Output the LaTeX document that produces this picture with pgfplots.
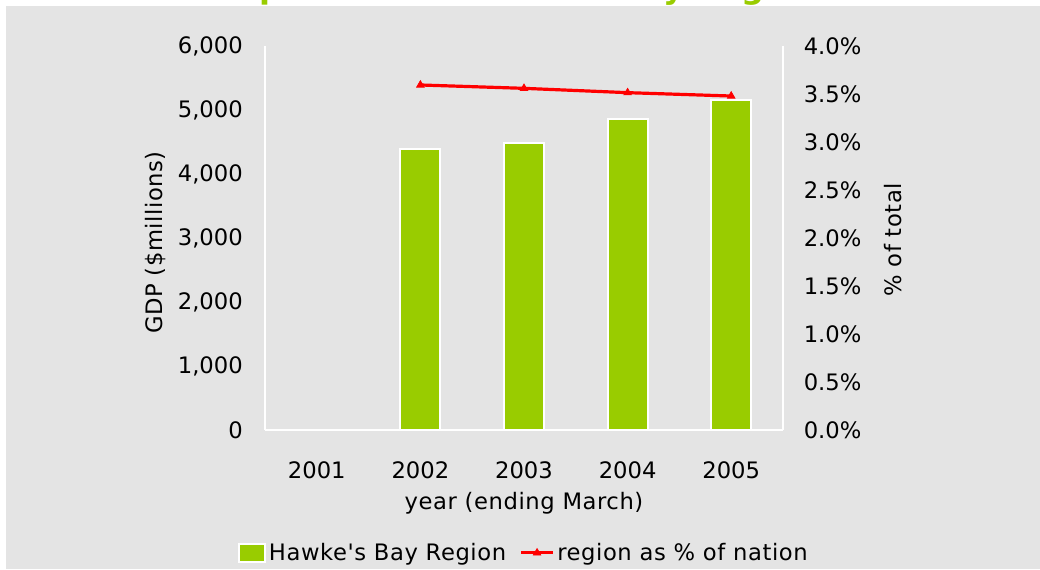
\documentclass[border=0pt]{standalone}
\usepackage{fontspec}
\setmainfont{DejaVu Sans}
\newfontfamily\dv{DejaVu Sans}
\newfontfamily\dvs{DejaVu Sans}[LetterSpace=2.5]
\usepackage{pgfplots}
\pgfplotsset{compat=1.18}
\definecolor{barg}{HTML}{99CC00}
\definecolor{bg}{HTML}{E4E4E4}
\newcommand{\fs}{\fontsize{17}{20}\selectfont}
\newcommand{\fl}{\fontsize{17}{20}\selectfont\dvs}
\begin{document}
\begin{tikzpicture}[x=1pt,y=1pt]
\useasboundingbox (0,0) rectangle (780,426.75);
\begin{scope}
\clip (0,0) rectangle (780,426.75);
\node[anchor=base east, inner sep=0pt, font=\fontsize{24}{28}\selectfont\bfseries, text=barg] at (186,428) {Gross domestic};
\node[anchor=base west, inner sep=0pt, font=\fontsize{24}{28}\selectfont\bfseries\dv, text=barg] at (194.25,428) {product of Hawke's Bay Region};
\end{scope}
\fill[bg] (4.5,0) rectangle (780,422.25);
\begin{axis}[
  at={(198.75pt,104.25pt)}, anchor=south west, scale only axis,
  width=388.5pt, height=288pt,
  xmin=-0.5, xmax=4.5, ymin=0, ymax=6000,
  axis x line*=bottom, axis y line*=left,
  axis line style={-, white, line width=2pt},
  tick style={draw=none},
  xtick={0,1,2,3,4}, xticklabels={2001,2002,2003,2004,2005},
  ytick={0,1000,...,6000}, scaled y ticks=false,
  /pgf/number format/.cd, 1000 sep={,}, assume math mode=true, /pgfplots/.cd,
  xticklabel style={font=\fs, inner sep=0pt, anchor=north, yshift=-19.5pt},
  yticklabel style={font=\fs, inner sep=0pt, anchor=east, xshift=-16.5pt},
  ylabel={GDP (\$millions)},
  ylabel style={font=\fl, at={(axis description cs:-0.2104,0.488)}, anchor=center},
  xlabel={year (ending March)},
  xlabel style={font=\fl, at={(axis description cs:0.5,-0.19)}, anchor=center},
  ybar, bar width=30pt,
]
\addplot[fill=barg, draw=white, line width=1.5pt] coordinates {(1,4383) (2,4484) (3,4852) (4,5156)};
\end{axis}
\begin{axis}[
  at={(198.75pt,104.25pt)}, anchor=south west, scale only axis,
  width=388.5pt, height=288pt,
  xmin=-0.5, xmax=4.5, ymin=0, ymax=4,
  axis x line=none, axis y line*=right,
  axis line style={-, white, line width=2pt},
  tick style={draw=none},
  ytick={0,0.5,1,1.5,2,2.5,3,3.5,4},
  yticklabel={\pgfmathprintnumber[fixed,fixed zerofill,precision=1,assume math mode=true]{\tick}\%},
  yticklabel style={font=\fs, inner sep=0pt, anchor=west, xshift=15.4pt},
  ylabel={\% of total},
  ylabel style={font=\fl, at={(axis description cs:1.2124,0.495)}, anchor=center, rotate=0},
  legend style={at={(axis description cs:0.5,-0.32)}, anchor=center, draw=none, fill=none,
    font=\fl, inner sep=0pt, /tikz/every even column/.append style={column sep=8pt}},
  legend columns=2,
]
\addlegendimage{legend image code/.code={\draw[fill=barg,draw=white,line width=1.5pt] (0pt,-6.5pt) rectangle (20pt,6.5pt);}}
\addlegendentry{Hawke's Bay Region}
\addplot[red, line width=2.4pt, mark=triangle*, mark size=3.3pt, mark options={solid, line width=0.5pt},
  legend image code/.code={\draw[mark repeat=2,mark phase=2] plot coordinates {(0pt,0pt) (12pt,0pt) (24pt,0pt)};}]
  coordinates {(1,3.594) (2,3.559) (3,3.514) (4,3.479)};
\addlegendentry{region as \% of nation}
\end{axis}
\end{tikzpicture}
\end{document}
